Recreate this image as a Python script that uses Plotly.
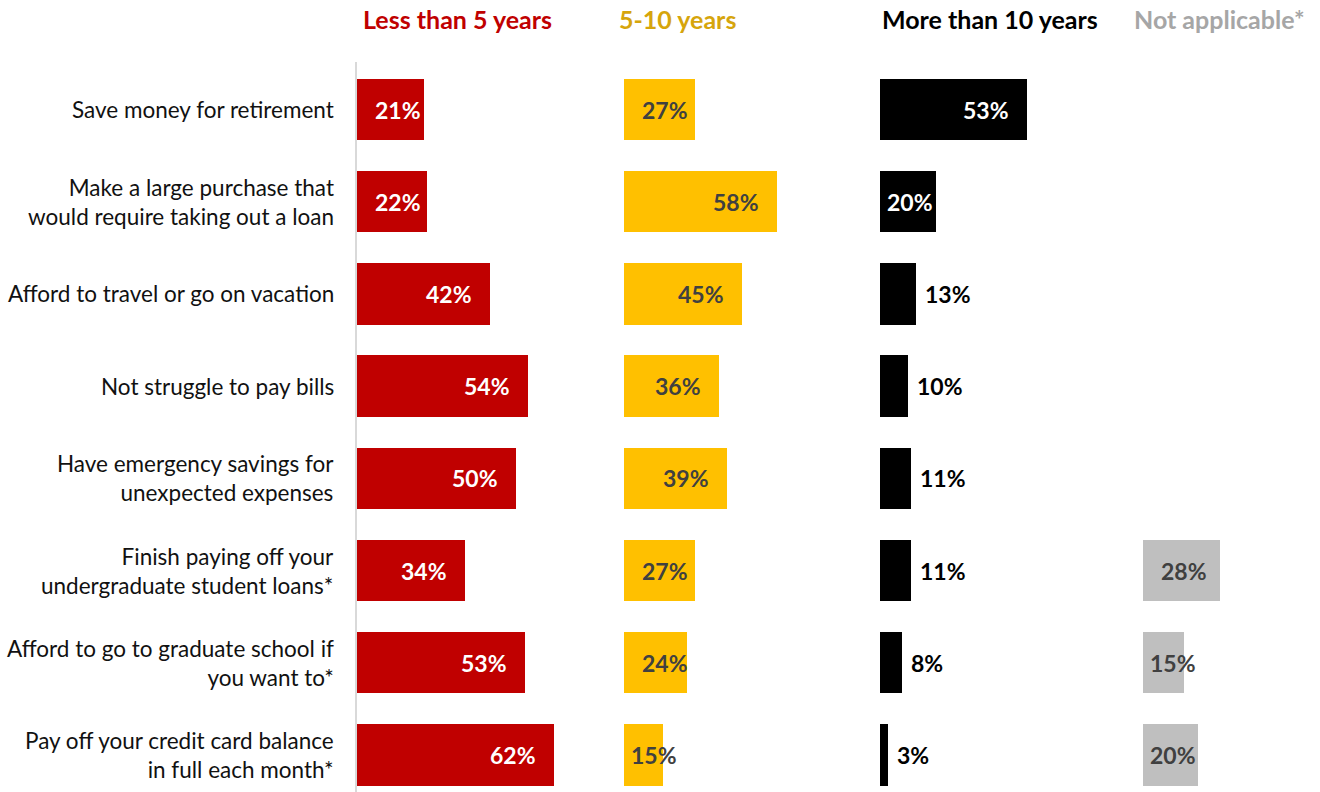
import plotly.graph_objects as go

# Survey items (top to bottom)
categories = [
    "Save money for retirement",
    "Make a large purchase that<br>would require taking out a loan",
    "Afford to travel or go on vacation",
    "Not struggle to pay bills",
    "Have emergency savings for<br>unexpected expenses",
    "Finish paying off your<br>undergraduate student loans*",
    "Afford to go to graduate school if<br>you want to*",
    "Pay off your credit card balance<br>in full each month*",
]

# Share of respondents (%) per time horizon
less_than_5 = [21, 22, 42, 54, 50, 34, 53, 62]
five_to_10 = [27, 58, 45, 36, 39, 27, 24, 15]
more_than_10 = [53, 20, 13, 10, 11, 11, 8, 3]
not_applicable = [None, None, None, None, None, 28, 15, 20]

headers = ["Less than 5 years", "5-10 years", "More than 10 years", "Not applicable*"]

W, H = 1320, 792
FONT = "Lato"
LABEL_W = 46  # approximate pixel width of a "NN%" label

# panel geometry: (left px, px per percent, width px)
panels = [
    dict(vals=less_than_5, left=357, ppu=3.17, width=240, color="#C00000",
         text="#FFFFFF", head="#C00000", head_x=457),
    dict(vals=five_to_10, left=624, ppu=2.63, width=220, color="#FFC000",
         text="#404040", head="#D6A50C", head_x=677),
    dict(vals=more_than_10, left=880, ppu=2.78, width=240, color="#000000",
         text="#FFFFFF", outside="#000000", head="#000000", head_x=990),
    dict(vals=not_applicable, left=1143, ppu=2.76, width=170, color="#BFBFBF",
         text="#404040", head="#A6A6A6", head_x=1219),
]

rows = list(range(len(categories)))
row0_px, row_step = 109.5, 92.21
top_px = 62
y_top = -(row0_px - top_px) / row_step
y_bot = (H - row0_px) / row_step

fig = go.Figure()
annotations = []

for k, p in enumerate(panels):
    ax = "" if k == 0 else str(k + 1)
    xr = p["width"] / p["ppu"]
    fig.add_trace(go.Bar(
        x=p["vals"], y=rows, orientation="h",
        xaxis="x" + ax, yaxis="y",
        marker=dict(color=p["color"], line=dict(width=0)),
        width=0.665, hoverinfo="skip", showlegend=False,
    ))
    fig.layout["xaxis" + ax] = dict(
        domain=[p["left"] / W, (p["left"] + p["width"]) / W],
        range=[0, xr], visible=False, fixedrange=True,
        anchor="y",
    )
    # value labels
    for i, v in enumerate(p["vals"]):
        if v is None:
            continue
        w = v * p["ppu"]
        color = p["text"]
        if p.get("outside") and w < 50:
            x, anchor, shift, color = v, "left", 7, p["outside"]
        elif w - 16 - LABEL_W >= 16:
            x, anchor, shift = v, "right", -16
        elif w >= LABEL_W + 10:
            x, anchor, shift = 0, "left", 16
        else:
            x, anchor, shift = 0, "left", 5
        annotations.append(dict(
            x=x, y=i, xref="x" + ax, yref="y", text=f"{v}%",
            xanchor=anchor, yanchor="middle", xshift=shift, showarrow=False,
            font=dict(family=FONT, size=23, color=color, weight="bold"),
        ))
    # column header
    annotations.append(dict(
        x=p["head_x"] / W, y=1 - 19 / H, xref="paper", yref="paper",
        text=f"<b>{headers[k]}</b>", xanchor="center", yanchor="middle",
        showarrow=False, font=dict(family=FONT, size=25, color=p["head"]),
    ))

# category labels, right aligned against the first panel
for i, c in enumerate(categories):
    annotations.append(dict(
        x=333 / W, y=i, xref="paper", yref="y", text=c,
        xanchor="right", yanchor="middle", align="right", showarrow=False,
        xshift=3,
        font=dict(family=FONT, size=22.5, color="#111111"),
    ))

fig.update_layout(
    width=W, height=H,
    margin=dict(l=0, r=0, t=0, b=0),
    paper_bgcolor="white", plot_bgcolor="white",
    yaxis=dict(
        domain=[0, 1 - top_px / H], range=[y_bot, y_top],
        showticklabels=False, showgrid=False, zeroline=False, ticks="",
        showline=True, linecolor="#D9D9D9", linewidth=2,
        anchor="x", fixedrange=True,
    ),
    annotations=annotations,
    bargap=0,
)

fig.write_html("out.html", config={"displayModeBar": False})
